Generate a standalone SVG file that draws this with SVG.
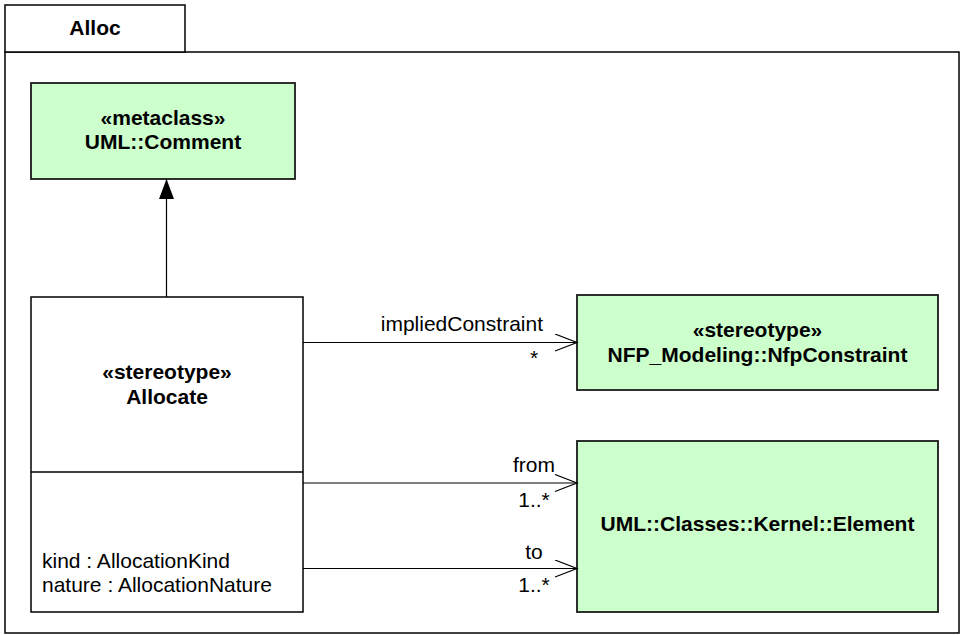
<svg xmlns="http://www.w3.org/2000/svg" width="961" height="635" viewBox="0 0 961 635">
  <defs>
    <style>
      text { font-family: "Liberation Sans", Arial, sans-serif; font-size: 21px; fill: #000; }
      .b { font-weight: bold; }
      .c { text-anchor: middle; }
      .frame { fill: #fff; stroke: #000; stroke-width: 1.5; }
      .cls { fill: #ccffcc; stroke: #1a1a1a; stroke-width: 1.8; }
      .st { fill: #fff; stroke: #000; stroke-width: 1.5; }
      .conn { fill: none; stroke: #000; stroke-width: 1.2; }
    </style>
    <marker id="open" markerUnits="userSpaceOnUse" markerWidth="26" markerHeight="22" refX="23" refY="9" orient="auto">
      <path d="M1,0.5 L23,9 L1,17.5" fill="none" stroke="#000" stroke-width="1.2"/>
    </marker>
    <marker id="gen" markerUnits="userSpaceOnUse" markerWidth="22" markerHeight="18" refX="20" refY="7.5" orient="auto">
      <path d="M0,0 L20,7.5 L0,15 Z" fill="#000"/>
    </marker>
  </defs>
  <rect width="961" height="635" fill="#fff"/>

  <g id="frame">
    <rect class="frame" x="5" y="52" width="954" height="581"/>
    <rect class="frame" x="5" y="5" width="180" height="47"/>
    <text class="b c" x="95" y="35">Alloc</text>
  </g>

  <g id="comment">
    <rect class="cls" x="31" y="83" width="264" height="96"/>
    <text class="b c" x="163" y="125">«metaclass»</text>
    <text class="b c" x="163" y="149">UML::Comment</text>
  </g>

  <g id="allocate">
    <rect class="st" x="31" y="297" width="272" height="315"/>
    <line class="st" x1="31" y1="472" x2="303" y2="472"/>
    <text class="b c" x="167" y="379">«stereotype»</text>
    <text class="b c" x="167" y="404">Allocate</text>
    <text x="42" y="568">kind : AllocationKind</text>
    <text x="42" y="592">nature : AllocationNature</text>
  </g>

  <g id="nfpconstraint">
    <rect class="cls" x="577" y="295" width="361" height="95"/>
    <text class="b c" x="757.5" y="337">«stereotype»</text>
    <text class="b c" x="757.5" y="362">NFP_Modeling::NfpConstraint</text>
  </g>

  <g id="element">
    <rect class="cls" x="577" y="441" width="361" height="171"/>
    <text class="b c" x="757.5" y="531">UML::Classes::Kernel::Element</text>
  </g>

  <g id="connectors">
    <line class="conn" x1="166.5" y1="297" x2="166.5" y2="179" marker-end="url(#gen)"/>
    <line class="conn" x1="303" y1="342.5" x2="577" y2="342.5" marker-end="url(#open)"/>
    <line class="conn" x1="303" y1="483" x2="577" y2="483" marker-end="url(#open)"/>
    <line class="conn" x1="303" y1="568.5" x2="577" y2="568.5" marker-end="url(#open)"/>
    <text x="543" y="331" text-anchor="end">impliedConstraint</text>
    <text class="c" x="534" y="365">*</text>
    <text class="c" x="534" y="472">from</text>
    <text class="c" x="534" y="507">1..*</text>
    <text class="c" x="534" y="559">to</text>
    <text class="c" x="534" y="592">1..*</text>
  </g>
</svg>
